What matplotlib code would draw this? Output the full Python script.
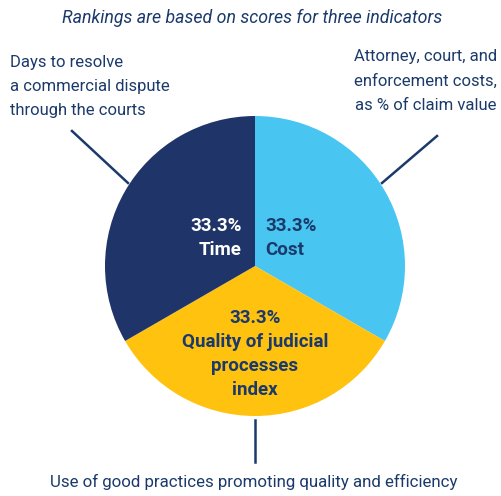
import matplotlib.pyplot as plt

# slices, clockwise from 12 o'clock
labels = ["Cost", "Quality of judicial\nprocesses\nindex", "Time"]
shares = [33.3, 33.3, 33.3]
colors = ["#48C6F1", "#FFC20E", "#1F3468"]
descriptions = [
    "Attorney, court, and\nenforcement costs,\nas % of claim value",
    "Use of good practices promoting quality and efficiency",
    "Days to resolve\na commercial dispute\nthrough the courts",
]
title = "Rankings are based on scores for three indicators"

navy = "#1B3A6B"
plt.rcParams["font.family"] = ["Roboto", "DejaVu Sans"]

fig = plt.figure(figsize=(5.02, 4.96), dpi=100)
ax = fig.add_axes([0, 0, 1, 1])

H = 496  # work in pixel units, y measured from the top
cx, cy, r = 255, 266, 150
ax.pie(shares, colors=colors, startangle=90, counterclock=False,
       center=(cx, H - cy), radius=r, frame=True,
       wedgeprops=dict(linewidth=0))
ax.set_xlim(0, 502)
ax.set_ylim(0, H)
ax.set_aspect("equal")
ax.axis("off")

def put(x, y, s, **kw):
    ax.text(x, H - y, s, **kw)

put(252, 18, title, ha="center", va="center", fontsize=12.8,
    style="italic", color=navy)

# inside labels
pct = [f"{v:.1f}%" for v in shares]
put(265, 238, pct[0] + "\n" + labels[0], ha="left", va="center",
    fontsize=13.5, fontweight="bold", color=navy, linespacing=1.45)
put(242, 238, pct[2] + "\n" + labels[2], ha="right", va="center",
    fontsize=13.5, fontweight="bold", color="white", linespacing=1.45,
    multialignment="right")
put(255, 354, pct[1] + "\n" + labels[1], ha="center", va="center",
    fontsize=13.5, fontweight="bold", color=navy, linespacing=1.42)

# outside descriptions and leader lines
put(497, 81, descriptions[0], ha="right", va="center", fontsize=12,
    color=navy, linespacing=1.75, multialignment="right")
put(10, 86, descriptions[2], ha="left", va="center", fontsize=12,
    color=navy, linespacing=1.75)
put(254, 482, descriptions[1], ha="center", va="center", fontsize=12.2,
    color=navy)

ax.plot([382, 437], [H - 183, H - 136], color=navy, lw=1.8)
ax.plot([128, 72], [H - 183, H - 131], color=navy, lw=1.8)
ax.plot([255, 255], [H - 420, H - 462], color=navy, lw=1.8)

fig.savefig("out.png", dpi=100)
